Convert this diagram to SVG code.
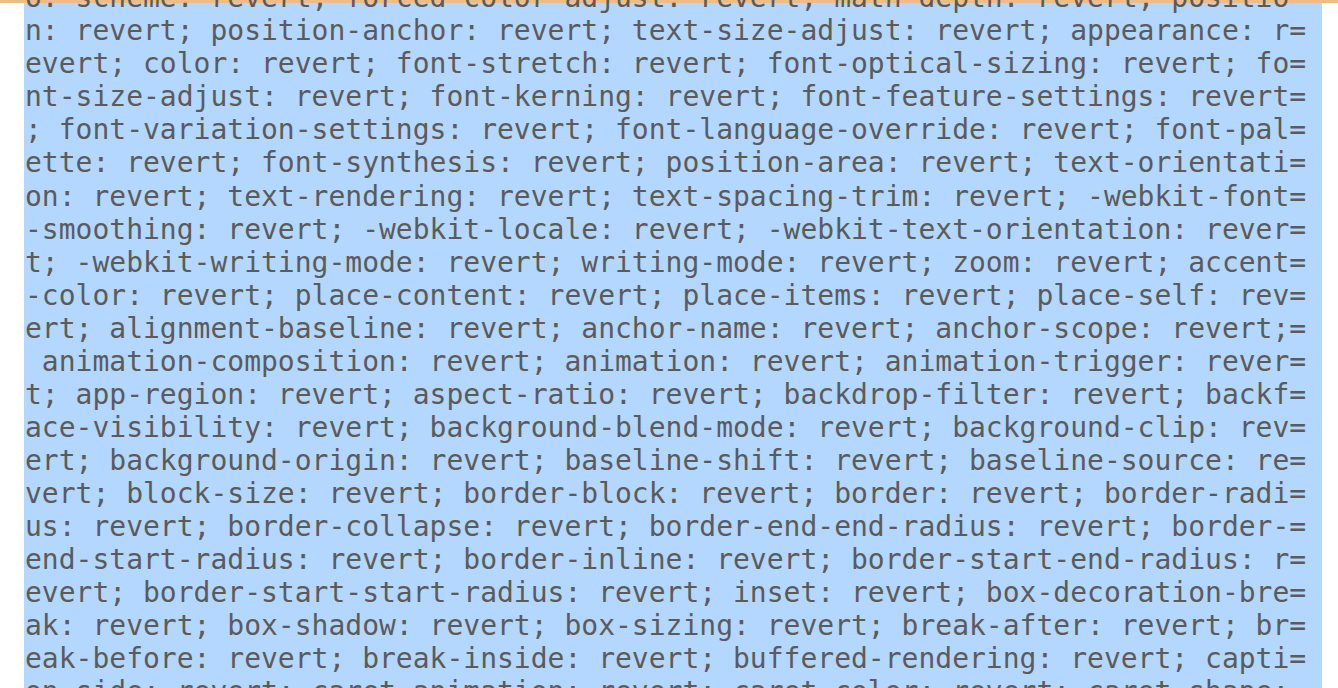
<svg xmlns="http://www.w3.org/2000/svg" width="1338" height="688" viewBox="0 0 1338 688">
<style>
text{font-family:"DejaVu Sans Mono","Liberation Mono",monospace;font-size:28px;fill:#5b5b5b;white-space:pre}
</style>
<rect width="1338" height="688" fill="#ffffff"/>
<rect x="24" y="0" width="1298" height="688" fill="#b3d7ff"/>
<rect x="0" y="0" width="1338" height="3" fill="#eebd85"/>
<g transform="translate(0,2)">
<text x="25" y="5">o: scheme: revert; forced-color-adjust: revert; math-depth: revert; positio</text>
<text x="25" y="38">n: revert; position-anchor: revert; text-size-adjust: revert; appearance: r=</text>
<text x="25" y="71">evert; color: revert; font-stretch: revert; font-optical-sizing: revert; fo=</text>
<text x="25" y="104">nt-size-adjust: revert; font-kerning: revert; font-feature-settings: revert=</text>
<text x="25" y="137">; font-variation-settings: revert; font-language-override: revert; font-pal=</text>
<text x="25" y="170">ette: revert; font-synthesis: revert; position-area: revert; text-orientati=</text>
<text x="25" y="204">on: revert; text-rendering: revert; text-spacing-trim: revert; -webkit-font=</text>
<text x="25" y="237">-smoothing: revert; -webkit-locale: revert; -webkit-text-orientation: rever=</text>
<text x="25" y="270">t; -webkit-writing-mode: revert; writing-mode: revert; zoom: revert; accent=</text>
<text x="25" y="303">-color: revert; place-content: revert; place-items: revert; place-self: rev=</text>
<text x="25" y="336">ert; alignment-baseline: revert; anchor-name: revert; anchor-scope: revert;=</text>
<text x="25" y="369"> animation-composition: revert; animation: revert; animation-trigger: rever=</text>
<text x="25" y="402">t; app-region: revert; aspect-ratio: revert; backdrop-filter: revert; backf=</text>
<text x="25" y="435">ace-visibility: revert; background-blend-mode: revert; background-clip: rev=</text>
<text x="25" y="468">ert; background-origin: revert; baseline-shift: revert; baseline-source: re=</text>
<text x="25" y="501">vert; block-size: revert; border-block: revert; border: revert; border-radi=</text>
<text x="25" y="534">us: revert; border-collapse: revert; border-end-end-radius: revert; border-=</text>
<text x="25" y="567">end-start-radius: revert; border-inline: revert; border-start-end-radius: r=</text>
<text x="25" y="600">evert; border-start-start-radius: revert; inset: revert; box-decoration-bre=</text>
<text x="25" y="633">ak: revert; box-shadow: revert; box-sizing: revert; break-after: revert; br=</text>
<text x="25" y="666">eak-before: revert; break-inside: revert; buffered-rendering: revert; capti=</text>
<text x="25" y="699">on-side: revert; caret-animation: revert; caret-color: revert; caret-shape:=</text>
</g>
</svg>
